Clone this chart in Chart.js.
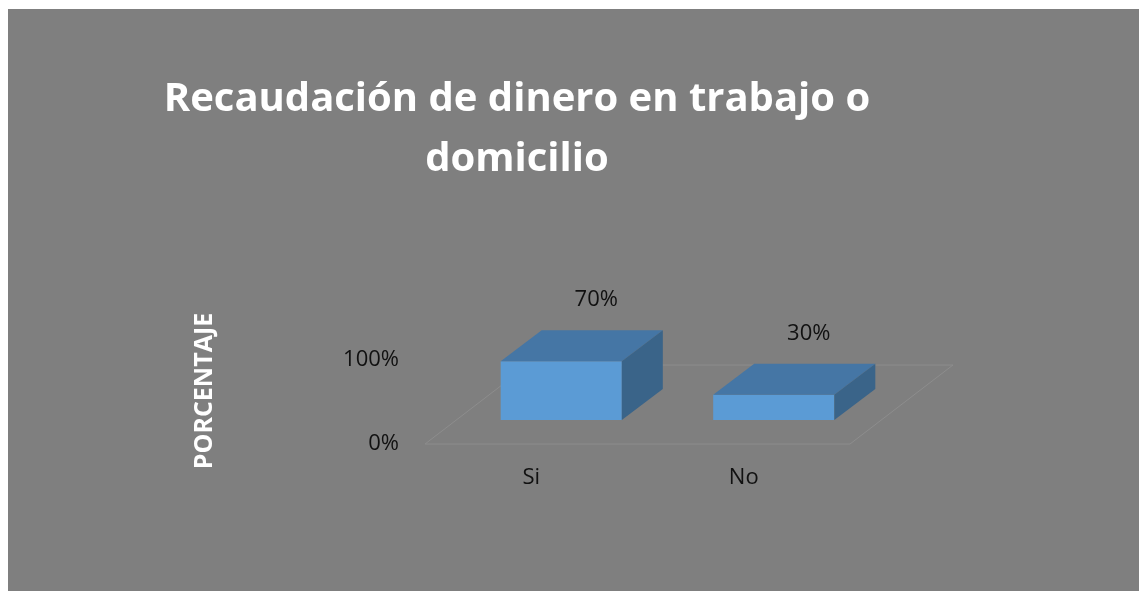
<!DOCTYPE html>
<html>
<head>
<meta charset="utf-8">
<script src="https://cdn.jsdelivr.net/npm/chart.js@4"></script>
<style>
    body { margin: 0; background: #ffffff; }
    #panel { position: absolute; left: 8px; top: 9px; width: 1131px; height: 582px; background: #7f7f7f; }
</style>
</head>
<body>
<div id="panel"><canvas id="recaudacion" width="1131" height="582"></canvas></div>
<script>
var categories = ['Si', 'No'];
var porcentajes = [70, 30];
var yTicks = [0, 100];

// box depth for the bars and the floor under them
var barDepth = { x: 41, y: -31 };
var floorShift = { x: -30, y: 24 };
var floorDepth = { x: 103, y: -79 };

var cube3d = {
    id: 'cube3d',
    beforeDatasetsDraw: function(chart) {
        var ctx = chart.ctx;
        var area = chart.chartArea;
        var base = chart.scales.y.getPixelForValue(0);
        var x0 = area.left + floorShift.x, x1 = area.right + floorShift.x;
        var y0 = base + floorShift.y;
        ctx.save();
        ctx.strokeStyle = '#8d8d8d';
        ctx.lineWidth = 1;
        ctx.beginPath();
        ctx.moveTo(x0, y0);
        ctx.lineTo(x1, y0);
        ctx.lineTo(x1 + floorDepth.x, y0 + floorDepth.y);
        ctx.lineTo(x0 + floorDepth.x, y0 + floorDepth.y);
        ctx.closePath();
        ctx.stroke();
        ctx.restore();
    },
    afterDatasetsDraw: function(chart) {
        var ctx = chart.ctx;
        var meta = chart.getDatasetMeta(0);
        ctx.save();
        meta.data.forEach(function(bar, i) {
            var l = bar.x - bar.width / 2, r = bar.x + bar.width / 2;
            var dx = barDepth.x, dy = barDepth.y;
            // top
            ctx.fillStyle = '#4576a5';
            ctx.beginPath();
            ctx.moveTo(l, bar.y);
            ctx.lineTo(r, bar.y);
            ctx.lineTo(r + dx, bar.y + dy);
            ctx.lineTo(l + dx, bar.y + dy);
            ctx.closePath();
            ctx.fill();
            // right side
            ctx.fillStyle = '#3a6489';
            ctx.beginPath();
            ctx.moveTo(r, bar.y);
            ctx.lineTo(r + dx, bar.y + dy);
            ctx.lineTo(r + dx, bar.base + dy);
            ctx.lineTo(r, bar.base);
            ctx.closePath();
            ctx.fill();
            // value label
            ctx.fillStyle = '#111111';
            ctx.font = '22px "Open Sans"';
            ctx.textAlign = 'center';
            ctx.textBaseline = 'middle';
            ctx.fillText(porcentajes[i] + '%', bar.x + 35, bar.y - 61);
        });
        ctx.restore();
    }
};

Chart.defaults.font.family = '"Open Sans", sans-serif';
Chart.defaults.color = '#111111';

var ctx = document.getElementById('recaudacion').getContext('2d');
var grafico = new Chart(ctx, {
    type: 'bar',
    data: {
        labels: categories,
        datasets: [
            {
                label: 'Porcentaje',
                data: porcentajes,
                backgroundColor: '#5b9bd5',
                borderWidth: 0,
                categoryPercentage: 1,
                barPercentage: 0.57
            }
        ]
    },
    options: {
        responsive: false,
        animation: false,
        layout: { padding: { left: 0, right: 113, top: 0, bottom: 0 } },
        scales: {
            x: {
                grid: { display: false, drawTicks: false },
                border: { display: false },
                ticks: { font: { size: 22 }, padding: 45, labelOffset: -30, color: '#111111' },
                afterFit: function(axis) { axis.height = 171; }
            },
            y: {
                min: 0,
                max: 100,
                grid: { display: false, drawTicks: false },
                border: { display: false },
                afterBuildTicks: function(axis) {
                    axis.ticks = yTicks.map(function(v) { return { value: v }; });
                },
                ticks: {
                    font: { size: 22 },
                    padding: 56,
                    labelOffset: 24,
                    color: '#111111',
                    callback: function(v) { return v + '%'; }
                },
                title: {
                    display: true,
                    // trailing spaces push the rotated label a little lower
                    text: 'PORCENTAJE    ',
                    color: '#ffffff',
                    font: { size: 25, weight: 'bold', lineHeight: 1.2 },
                    padding: { top: 182, bottom: 0 }
                },
                afterFit: function(axis) { axis.width = 447; }
            },
            y2: {
                position: 'right',
                display: true,
                grid: { display: false, drawTicks: false },
                border: { display: false },
                ticks: { display: false },
                afterFit: function(axis) { axis.width = 146; }
            }
        },
        plugins: {
            legend: { display: false },
            tooltip: { enabled: false },
            title: {
                display: true,
                text: ['Recaudación de dinero en trabajo o', 'domicilio'],
                color: '#ffffff',
                font: { size: 40, weight: 'bold', lineHeight: 60 / 40 },
                padding: { top: 61, bottom: 146 }
            }
        }
    },
    plugins: [cube3d]
});
</script>
</body>
</html>
